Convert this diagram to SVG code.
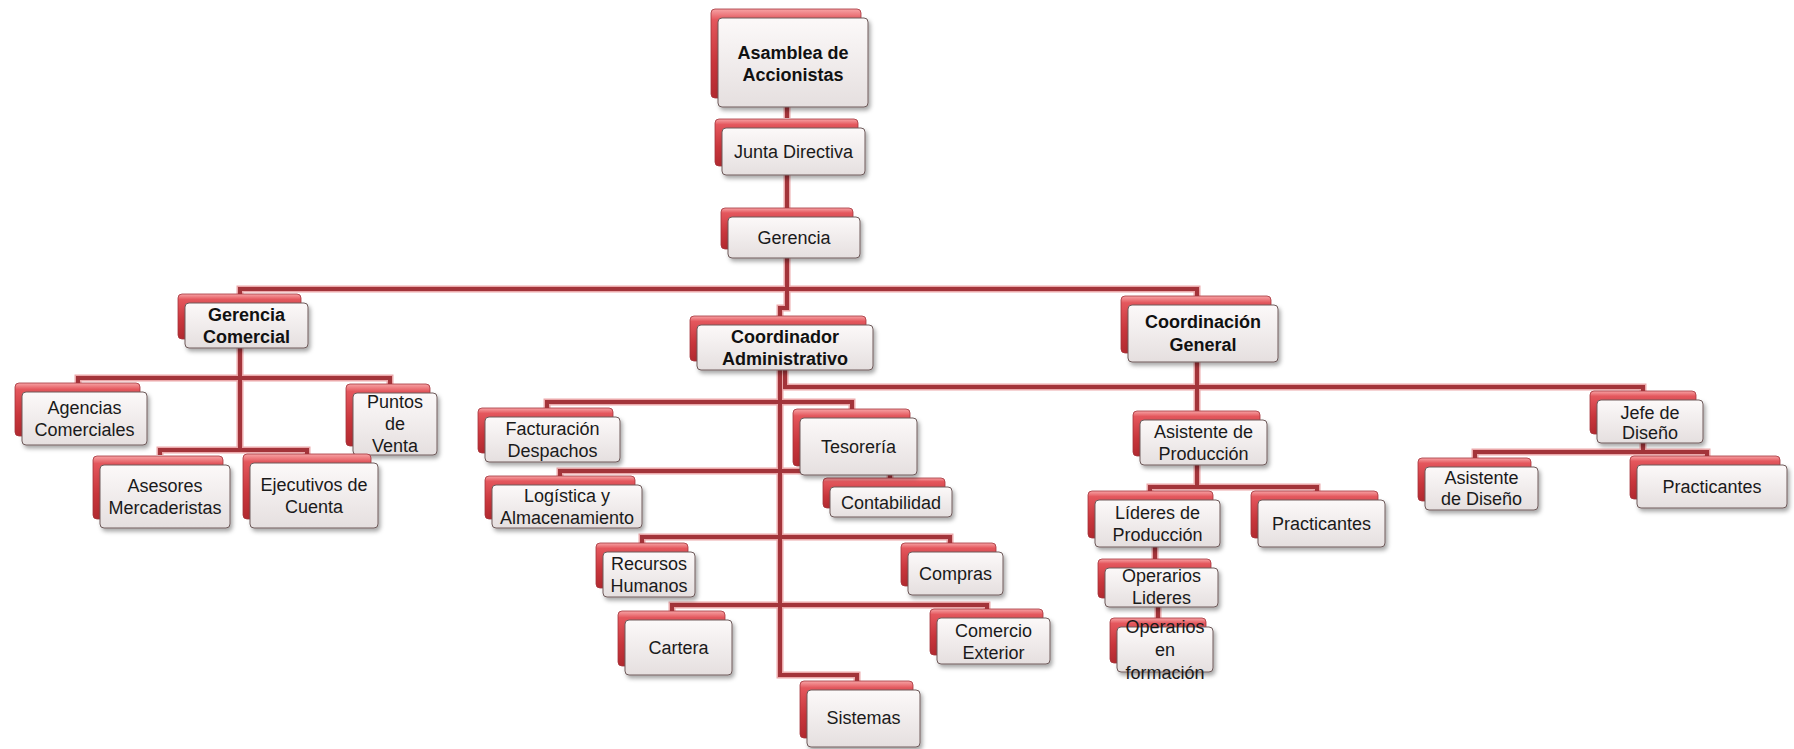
<svg xmlns="http://www.w3.org/2000/svg" xmlns:xlink="http://www.w3.org/1999/xlink" width="1794" height="749" viewBox="0 0 1794 749">
<defs>
<linearGradient id="gRed" x1="0" y1="0" x2="0" y2="1">
<stop offset="0" stop-color="#f7a4a6"/>
<stop offset="0.12" stop-color="#e4575d"/>
<stop offset="0.6" stop-color="#c9363c"/>
<stop offset="1" stop-color="#b22a30"/>
</linearGradient>
<linearGradient id="gWhite" x1="0" y1="0" x2="0" y2="1">
<stop offset="0" stop-color="#fcf9f9"/>
<stop offset="1" stop-color="#e5dfdf"/>
</linearGradient>
<filter id="sh" x="-10%" y="-10%" width="125%" height="135%">
<feDropShadow dx="2" dy="3" stdDeviation="2" flood-color="#000" flood-opacity="0.35"/>
</filter>
<path id="conn" d="M787,107V118 M787,175V208 M787,258V308H780V316 M240,294V289H1197V296 M240,348V450 M78,384V378H390V385 M160,455V450H307V455 M785,370V387H1643V392 M547,409V402H852V409 M560,477V471H890V478 M642,544V537H950V544 M672,612V605H987V610 M780,370V675H857V682 M1197,362V412 M1197,465V487 M1150,492V487H1317V492 M1155,547V560 M1158,607V619 M1643,443V452 M1475,458V452H1707V457"/>
</defs>
<style>
.back{fill:url(#gRed);stroke:#a3323a;stroke-width:0.8}
.front{fill:url(#gWhite);stroke:#6e5a5a;stroke-width:1;filter:url(#sh)}
.t{font-family:"Liberation Sans",Arial,sans-serif;font-size:18px;fill:#1a1a1a;text-anchor:middle}
.b{font-weight:bold;fill:#111}
.lnO{fill:none;stroke:#eba8aa;stroke-width:7}
.lnI{fill:none;stroke:#a3343a;stroke-width:4}
</style>
<rect width="1794" height="749" fill="#ffffff"/>
<g id="connectors">
<use xlink:href="#conn" class="lnO"/>
<use xlink:href="#conn" class="lnI"/>
</g>
<g id="asamblea"><rect class="back" x="711" y="9" width="150" height="89" rx="4"/><rect class="front" x="718" y="18" width="150" height="89" rx="4"/><text class="t b" x="793" y="59">Asamblea de<tspan x="793" dy="22">Accionistas</tspan></text></g>
<g id="junta"><rect class="back" x="715" y="119" width="143" height="47" rx="4"/><rect class="front" x="722" y="128" width="143" height="47" rx="4"/><text class="t" x="793.5" y="158">Junta Directiva</text></g>
<g id="gerencia"><rect class="back" x="721" y="208" width="132" height="41" rx="4"/><rect class="front" x="728" y="217" width="132" height="41" rx="4"/><text class="t" x="794" y="244">Gerencia</text></g>
<g id="gerencia-comercial"><rect class="back" x="178" y="294" width="123" height="45" rx="4"/><rect class="front" x="185" y="303" width="123" height="45" rx="4"/><text class="t b" x="246.5" y="320.5">Gerencia<tspan x="246.5" dy="22">Comercial</tspan></text></g>
<g id="agencias"><rect class="back" x="15" y="383" width="125" height="53" rx="4"/><rect class="front" x="22" y="392" width="125" height="53" rx="4"/><text class="t" x="84.5" y="414">Agencias<tspan x="84.5" dy="22">Comerciales</tspan></text></g>
<g id="puntos"><rect class="back" x="346" y="384" width="84" height="62" rx="4"/><rect class="front" x="353" y="393" width="84" height="62" rx="4"/><text class="t" x="395" y="408">Puntos<tspan x="395" dy="22">de</tspan><tspan x="395" dy="22">Venta</tspan></text></g>
<g id="asesores"><rect class="back" x="93" y="456" width="130" height="63" rx="4"/><rect class="front" x="100" y="465" width="130" height="63" rx="4"/><text class="t" x="165" y="492">Asesores<tspan x="165" dy="22">Mercaderistas</tspan></text></g>
<g id="ejecutivos"><rect class="back" x="243" y="454" width="128" height="65" rx="4"/><rect class="front" x="250" y="463" width="128" height="65" rx="4"/><text class="t" x="314" y="491">Ejecutivos de<tspan x="314" dy="22">Cuenta</tspan></text></g>
<g id="coordinador-administrativo"><rect class="back" x="690" y="316" width="176" height="45" rx="4"/><rect class="front" x="697" y="325" width="176" height="45" rx="4"/><text class="t b" x="785" y="343">Coordinador<tspan x="785" dy="22">Administrativo</tspan></text></g>
<g id="facturacion"><rect class="back" x="478" y="408" width="135" height="45" rx="4"/><rect class="front" x="485" y="417" width="135" height="45" rx="4"/><text class="t" x="552.5" y="435">Facturación<tspan x="552.5" dy="22">Despachos</tspan></text></g>
<g id="contabilidad"><rect class="back" x="823" y="478" width="122" height="30" rx="4"/><rect class="front" x="830" y="487" width="122" height="30" rx="4"/><text class="t" x="891" y="508.5">Contabilidad</text></g>
<g id="tesoreria"><rect class="back" x="793" y="409" width="117" height="57" rx="4"/><rect class="front" x="800" y="418" width="117" height="57" rx="4"/><text class="t" x="858.5" y="453">Tesorería</text></g>
<g id="logistica"><rect class="back" x="485" y="476" width="150" height="43" rx="4"/><rect class="front" x="492" y="485" width="150" height="43" rx="4"/><text class="t" x="567" y="502">Logística y<tspan x="567" dy="22">Almacenamiento</tspan></text></g>
<g id="recursos"><rect class="back" x="596" y="543" width="92" height="45" rx="4"/><rect class="front" x="603" y="552" width="92" height="45" rx="4"/><text class="t" x="649" y="570">Recursos<tspan x="649" dy="22">Humanos</tspan></text></g>
<g id="compras"><rect class="back" x="901" y="543" width="95" height="43" rx="4"/><rect class="front" x="908" y="552" width="95" height="43" rx="4"/><text class="t" x="955.5" y="580">Compras</text></g>
<g id="cartera"><rect class="back" x="618" y="611" width="107" height="55" rx="4"/><rect class="front" x="625" y="620" width="107" height="55" rx="4"/><text class="t" x="678.5" y="654">Cartera</text></g>
<g id="comercio"><rect class="back" x="930" y="609" width="113" height="46" rx="4"/><rect class="front" x="937" y="618" width="113" height="46" rx="4"/><text class="t" x="993.5" y="637">Comercio<tspan x="993.5" dy="22">Exterior</tspan></text></g>
<g id="sistemas"><rect class="back" x="800" y="681" width="113" height="57" rx="4"/><rect class="front" x="807" y="690" width="113" height="57" rx="4"/><text class="t" x="863.5" y="724">Sistemas</text></g>
<g id="coordinacion-general"><rect class="back" x="1121" y="296" width="150" height="57" rx="4"/><rect class="front" x="1128" y="305" width="150" height="57" rx="4"/><text class="t b" x="1203" y="328">Coordinación<tspan x="1203" dy="23">General</tspan></text></g>
<g id="asistente-produccion"><rect class="back" x="1133" y="411" width="127" height="45" rx="4"/><rect class="front" x="1140" y="420" width="127" height="45" rx="4"/><text class="t" x="1203.5" y="438">Asistente de<tspan x="1203.5" dy="22">Producción</tspan></text></g>
<g id="jefe-diseno"><rect class="back" x="1590" y="391" width="106" height="43" rx="4"/><rect class="front" x="1597" y="400" width="106" height="43" rx="4"/><text class="t" x="1650" y="419">Jefe de<tspan x="1650" dy="20">Diseño</tspan></text></g>
<g id="lideres"><rect class="back" x="1088" y="491" width="125" height="47" rx="4"/><rect class="front" x="1095" y="500" width="125" height="47" rx="4"/><text class="t" x="1157.5" y="519">Líderes de<tspan x="1157.5" dy="22">Producción</tspan></text></g>
<g id="practicantes-produccion"><rect class="back" x="1251" y="491" width="127" height="47" rx="4"/><rect class="front" x="1258" y="500" width="127" height="47" rx="4"/><text class="t" x="1321.5" y="530">Practicantes</text></g>
<g id="operarios-lideres"><rect class="back" x="1098" y="559" width="113" height="39" rx="4"/><rect class="front" x="1105" y="568" width="113" height="39" rx="4"/><text class="t" x="1161.5" y="582">Operarios<tspan x="1161.5" dy="22">Lideres</tspan></text></g>
<g id="operarios-formacion"><rect class="back" x="1110" y="618" width="96" height="45" rx="4"/><rect class="front" x="1117" y="627" width="96" height="45" rx="4"/><text class="t" x="1165" y="633">Operarios<tspan x="1165" dy="23">en</tspan><tspan x="1165" dy="23">formación</tspan></text></g>
<g id="asistente-diseno"><rect class="back" x="1418" y="458" width="113" height="43" rx="4"/><rect class="front" x="1425" y="467" width="113" height="43" rx="4"/><text class="t" x="1481.5" y="484">Asistente<tspan x="1481.5" dy="21">de Diseño</tspan></text></g>
<g id="practicantes-diseno"><rect class="back" x="1630" y="456" width="150" height="43" rx="4"/><rect class="front" x="1637" y="465" width="150" height="43" rx="4"/><text class="t" x="1712" y="493">Practicantes</text></g>
</svg>
